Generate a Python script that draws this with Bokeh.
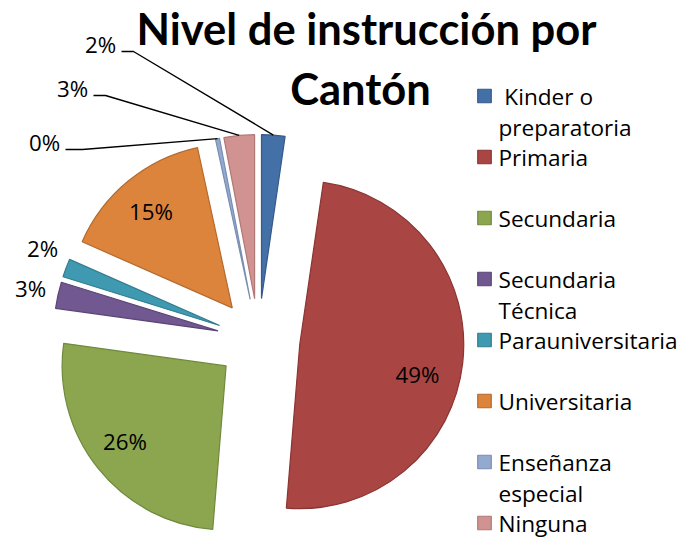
import math
from bokeh.plotting import figure
from bokeh.models import Range1d
from bokeh.core.properties import value
from bokeh.embed import file_html
from bokeh.resources import INLINE

# ---------------- data ----------------
categories = ["Kinder o preparatoria", "Primaria", "Secundaria", "Secundaria Técnica",
              "Parauniversitaria", "Universitaria", "Enseñanza especial", "Ninguna"]
legend_labels = [" Kinder o\npreparatoria", "Primaria", "Secundaria", "Secundaria\nTécnica",
                 "Parauniversitaria", "Universitaria", "Enseñanza\nespecial", "Ninguna"]
shares = [2.3, 49.0, 25.9, 2.6, 1.8, 15.0, 0.4, 3.0]
pct_labels = ["2%", "49%", "26%", "3%", "2%", "15%", "0%", "3%"]
title_lines = ["Nivel de instrucción por", "Cantón"]

fills = ["#4470A8", "#A94543", "#8BA64F", "#715891", "#3F99B0", "#DD843C", "#94A9CF", "#D19392"]
edges = ["#36598A", "#8B3533", "#6F8A3D", "#5A4676", "#317C90", "#B46A2E", "#7A8DB3", "#B07876"]

# ---------------- layout (reference pixel space, y flipped) ----------------
W_PX, H_PX = 683, 539

def Y(yref):
    return H_PX - yref

FONT = "Open Sans"
TFONT = "Lato"
def fs(px):
    return value(f"{px:.1f}px")

CX, CY = 258.0, Y(339.5)
R = 164.0
EXPLODE = 41.5

p = figure(width=W_PX, height=H_PX, x_range=Range1d(0, W_PX), y_range=Range1d(0, H_PX),
           title=None, x_axis_location=None, y_axis_location=None,
           output_backend="svg", toolbar_location=None, min_border=0,
           background_fill_color="white", border_fill_color="white", outline_line_color=None)
p.grid.visible = False

total = sum(shares)
cum = [0.0]
for s in shares:
    cum.append(cum[-1] + s)

xs, ys, sa, ea, mids = [], [], [], [], []
for i, s in enumerate(shares):
    a0 = 2 * math.pi * cum[i] / total
    a1 = 2 * math.pi * cum[i + 1] / total
    am = (a0 + a1) / 2
    mids.append(am)
    xs.append(CX + EXPLODE * math.sin(am))
    ys.append(CY + EXPLODE * math.cos(am))
    sa.append(math.pi / 2 - a0)
    ea.append(math.pi / 2 - a1)

p.wedge(x=xs, y=ys, radius=R, start_angle=sa, end_angle=ea, direction="clock",
        fill_color=fills, line_color=edges, line_width=1.2)

# inside labels for the large slices
inside = {1: math.radians(7.7), 2: math.radians(2.0), 5: math.radians(-0.8)}
for i, da in inside.items():
    a = mids[i] + da
    frac = 0.74 if i == 1 else 0.77
    lx = xs[i] + frac * R * math.sin(a)
    ly = ys[i] + frac * R * math.cos(a)
    p.text(x=[lx], y=[ly], text=[pct_labels[i]], text_align="center", text_baseline="middle",
           text_font=value(FONT), text_font_size=fs(22.3), text_color="#000000")

# outside labels (Excel "best fit" placement)
outside_pos = {0: (100, 44), 7: (72, 88), 6: (44, 142), 4: (42, 248), 3: (30, 288)}
leader_elbow = {0: [(133, 51), (121, 51)], 7: [(105, 95), (93, 95)], 6: [(82, 149), (65, 149)]}
for i, (lxr, lyr) in outside_pos.items():
    p.text(x=[lxr], y=[Y(lyr)], text=[pct_labels[i]], text_align="center", text_baseline="middle",
           text_font=value(FONT), text_font_size=fs(22.3), text_color="#000000")
for i, pts in leader_elbow.items():
    sx = xs[i] + R * math.sin(mids[i])
    sy = ys[i] + R * math.cos(mids[i])
    lx = [sx] + [pt[0] for pt in pts]
    ly = [sy] + [Y(pt[1]) for pt in pts]
    p.line(x=lx, y=ly, line_color="#000000", line_width=1.4)

# title
p.text(x=[366], y=[Y(27.5)], text=[title_lines[0]], text_align="center", text_baseline="middle",
       text_font=value(TFONT), text_font_style="bold", text_font_size=fs(43.5), text_color="#000000")
p.text(x=[360], y=[Y(87.5)], text=[title_lines[1]], text_align="center", text_baseline="middle",
       text_font=value(TFONT), text_font_style="bold", text_font_size=fs(43.5), text_color="#000000")

# legend
LEG_X, LEG_Y0, LEG_DY, LINE_DY = 484.0, 95.5, 61.0, 31.3
SQ = 13.5
for i, lab in enumerate(legend_labels):
    cy = LEG_Y0 + i * LEG_DY
    p.rect(x=[LEG_X], y=[Y(cy)], width=SQ, height=SQ, fill_color=fills[i], line_color=edges[i],
           line_width=1.2)
    for j, line in enumerate(lab.split("\n")):
        shown = ("\u00a0" + line[1:]) if line.startswith(" ") else line
        p.text(x=[498], y=[Y(cy + j * LINE_DY)], text=[shown], text_align="left",
               text_baseline="middle", text_font=value(FONT), text_font_size=fs(22.6),
               text_color="#000000")

open("out.html", "w").write(file_html(p, INLINE))
